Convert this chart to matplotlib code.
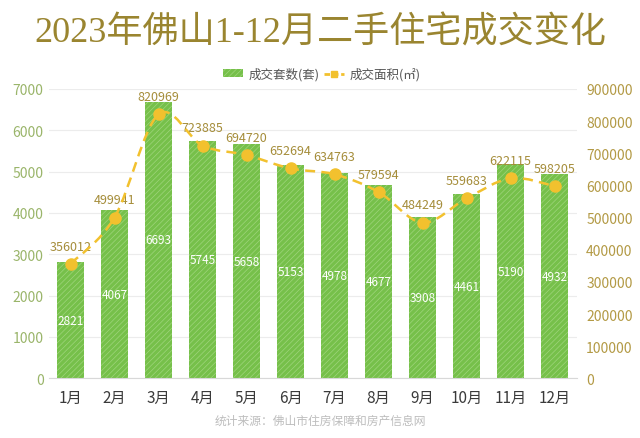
import matplotlib.pyplot as plt
from matplotlib.path import Path
from matplotlib.patches import PathPatch
import numpy as np

plt.rcParams['font.family'] = ['Noto Sans CJK SC', 'DejaVu Sans']
plt.rcParams['hatch.linewidth'] = 0.5

months = ['1月', '2月', '3月', '4月', '5月', '6月', '7月', '8月', '9月', '10月', '11月', '12月']
units = [2821, 4067, 6693, 5745, 5658, 5153, 4978, 4677, 3908, 4461, 5190, 4932]
area = [356012, 499941, 820969, 723885, 694720, 652694, 634763, 579594, 484249, 559683, 622115, 598205]

green = '#76c04a'
stripe = '#9fd57c'
gold = '#f2c12e'
label_gold = '#a58d3a'

fig = plt.figure(figsize=(6.4, 4.39), dpi=100)
ax = fig.add_axes([0.0758, 0.136, 0.825, 0.659])
ax2 = ax.twinx()

x = np.arange(len(months))
ax.bar(x, units, width=0.61, color=green, hatch='//////', edgecolor=stripe, linewidth=0, zorder=2)
for xi, v in zip(x, units):
    ax.text(xi, v / 2, str(v), ha='center', va='center', color='white', fontsize=8.5, zorder=3)

ax.set_ylim(0, 7000)
ax.set_xlim(-0.5, 11.5)
ax.set_yticks(range(0, 7001, 1000))
ax.grid(axis='y', color='#ececec', linewidth=0.8, zorder=0)
ax.set_axisbelow(True)
ax.set_xticks(x)
ax.set_xticklabels(months, fontsize=11, color='#3a3a3a')
ax.tick_params(axis='y', colors='#9ab56a', labelsize=10, length=0)
ax.tick_params(axis='x', length=0, pad=8)
for s in ['left', 'right', 'top']:
    ax.spines[s].set_visible(False)
ax.spines['bottom'].set_color('#d8d8d8')

# smoothed dashed line through the area values (Catmull-Rom as bezier)
pts = np.column_stack([x, area]).astype(float)
verts = [pts[0]]
codes = [Path.MOVETO]
for i in range(len(pts) - 1):
    p0 = pts[i - 1] if i > 0 else pts[i]
    p1, p2 = pts[i], pts[i + 1]
    p3 = pts[i + 2] if i + 2 < len(pts) else pts[i + 1]
    c1 = p1 + (p2 - p0) / 6
    c2 = p2 - (p3 - p1) / 6
    verts += [c1, c2, p2]
    codes += [Path.CURVE4] * 3
ax2.add_patch(PathPatch(Path(verts, codes), facecolor='none', edgecolor=gold,
                        linewidth=1.8, linestyle=(0, (4, 2.5)), zorder=4))
ax2.plot(x, area, 'o', color=gold, markersize=8, zorder=5)
for xi, v in zip(x, area):
    ax2.text(xi, v + 35000, str(v), ha='center', va='bottom', color=label_gold, fontsize=9)

ax2.set_ylim(0, 900000)
ax2.set_yticks(range(0, 900001, 100000))
ax2.tick_params(axis='y', colors='#b39a45', labelsize=10, length=0, pad=7)
for s in ['left', 'right', 'top', 'bottom']:
    ax2.spines[s].set_visible(False)

# legend
ax.bar([0], [0], color=green, hatch='//////', edgecolor=stripe, linewidth=0, label='成交套数(套)')
ax2.plot([], [], color=gold, marker='s', markersize=5, linestyle=(0, (2, 1)), linewidth=2, label='成交面积(㎡)')
h1, l1 = ax.get_legend_handles_labels()
h2, l2 = ax2.get_legend_handles_labels()
fig.legend(h1[:1] + h2, l1[:1] + l2, loc='center', bbox_to_anchor=(0.503, 0.829), ncol=2,
           frameon=False, fontsize=9, handlelength=1.6, handleheight=0.6, columnspacing=0.4,
           handletextpad=0.4, labelcolor='#555555')

fig.text(0.5, 0.925, '2023年佛山1-12月二手住宅成交变化', ha='center', va='center',
         fontsize=26, color='#9a8530', family=['Liberation Serif', 'Noto Sans CJK SC'])
fig.text(0.5, 0.04, '统计来源：佛山市住房保障和房产信息网', ha='center', va='center',
         fontsize=8.5, color='#bdbdbd')

fig.savefig('out.png', dpi=100)
